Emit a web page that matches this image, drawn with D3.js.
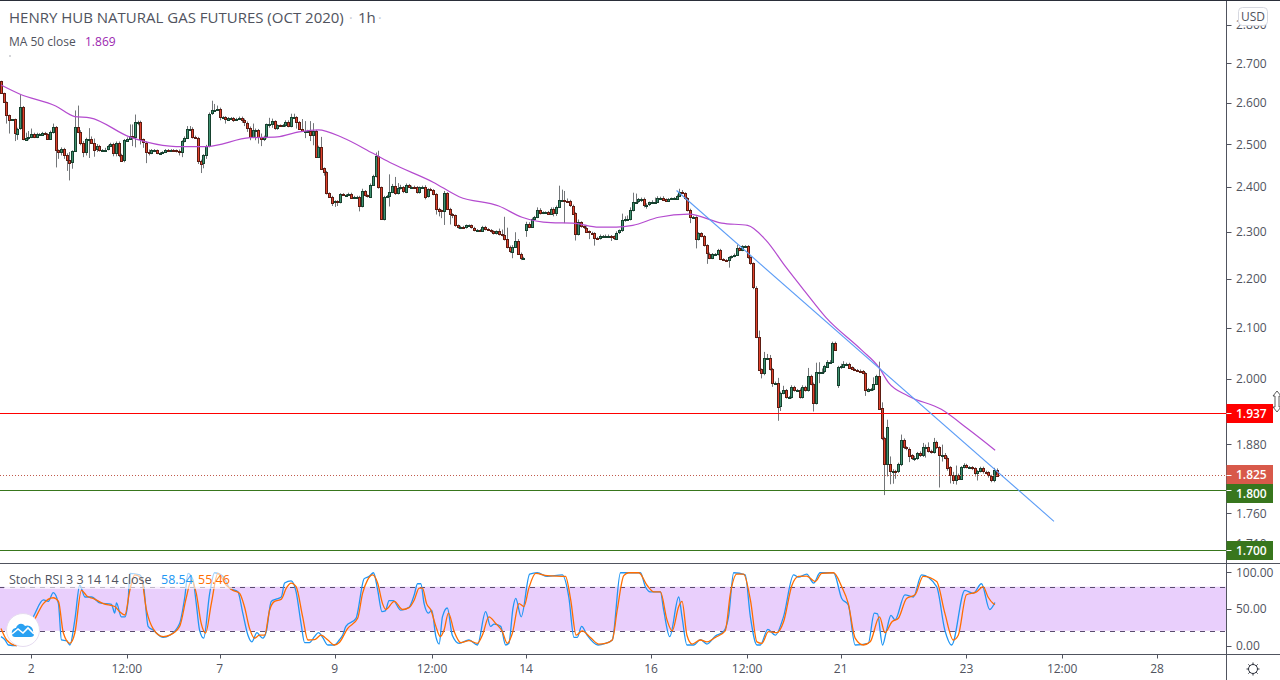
<!DOCTYPE html>
<html>
<head>
<meta charset="utf-8">
<script src="https://d3js.org/d3.v7.min.js"></script>
<style>
html,body{margin:0;padding:0;background:#fff;overflow:hidden}
svg{display:block}
text{font-family:"Open Sans","Noto Sans",sans-serif}
</style>
</head>
<body>
<svg id="c" width="1280" height="680"></svg>
<script>
const closes=[
2.625,2.603,2.571,2.559,2.559,2.526,2.537,2.589,2.511,2.515,
2.517,2.525,2.517,2.523,2.523,2.527,2.524,2.513,2.529,2.541,
2.485,2.481,2.489,2.475,2.463,2.457,2.483,2.541,2.529,2.503,
2.481,2.511,2.513,2.503,2.487,2.495,2.485,2.485,2.487,2.495,
2.5,2.479,2.503,2.475,2.461,2.509,2.513,2.519,2.517,2.553,
2.553,2.511,2.503,2.481,2.479,2.485,2.485,2.479,2.479,2.481,
2.486,2.485,2.486,2.485,2.483,2.481,2.507,2.515,2.537,2.537,
2.517,2.515,2.461,2.455,2.473,2.495,2.573,2.581,2.583,2.585,
2.565,2.565,2.559,2.563,2.563,2.559,2.561,2.563,2.557,2.551,
2.539,2.517,2.533,2.533,2.517,2.513,2.517,2.547,2.547,2.555,
2.537,2.545,2.543,2.545,2.553,2.543,2.565,2.565,2.553,2.537,
2.532,2.532,2.532,2.522,2.532,2.471,2.494,2.443,2.434,2.386,
2.378,2.365,2.368,2.365,2.384,2.382,2.382,2.384,2.376,2.378,
2.378,2.357,2.391,2.381,2.378,2.405,2.425,2.471,2.399,2.328,
2.378,2.38,2.389,2.403,2.386,2.397,2.399,2.389,2.405,2.401,
2.401,2.399,2.388,2.399,2.401,2.378,2.395,2.393,2.384,2.351,
2.347,2.345,2.386,2.351,2.339,2.336,2.314,2.309,2.311,2.309,
2.314,2.314,2.309,2.304,2.304,2.303,2.311,2.306,2.304,2.301,
2.297,2.301,2.295,2.293,2.284,2.267,2.258,2.268,2.281,2.253,
2.244,2.244,2.317,2.311,2.328,2.332,2.348,2.341,2.343,2.343,
2.339,2.351,2.341,2.355,2.371,2.371,2.369,2.368,2.358,2.341,
2.295,2.321,2.312,2.309,2.301,2.298,2.297,2.287,2.286,2.291,
2.291,2.291,2.291,2.29,2.285,2.298,2.303,2.325,2.328,2.328,
2.348,2.367,2.367,2.372,2.373,2.36,2.36,2.365,2.367,2.367,
2.376,2.376,2.372,2.368,2.373,2.374,2.374,2.38,2.388,2.386,
2.374,2.348,2.332,2.332,2.284,2.297,2.291,2.271,2.253,2.244,
2.252,2.252,2.261,2.241,2.239,2.238,2.245,2.247,2.25,2.264,
2.26,2.269,2.269,2.245,2.232,2.181,2.082,2.018,2.011,2.04,
2.04,2.019,1.993,1.993,1.949,1.974,1.979,1.966,1.966,1.985,
1.979,1.979,1.966,1.985,1.979,2.006,1.991,1.955,2.014,2.014,
2.014,2.024,2.033,2.033,2.07,2.057,2.022,2.024,2.029,2.029,
2.022,2.019,2.017,2.016,2.015,2.011,1.978,1.981,1.981,1.991,
2.006,1.945,1.891,1.845,1.911,1.8325,1.8325,1.832,1.844,1.887,
1.874,1.872,1.86,1.855,1.855,1.864,1.86,1.874,1.875,1.868,
1.866,1.883,1.874,1.859,1.861,1.856,1.839,1.825,1.817,1.826,
1.819,1.839,1.843,1.839,1.839,1.837,1.829,1.832,1.837,1.831,
1.83,1.824,1.817,1.835,1.825];
const gapBars=[0,192,306,325];
const gapOpens=[2.655,2.304,1.988,1.845];
// upper / lower shadow lengths, in thousandths of a dollar
const upperWicks=[
0,0,0,0,0,2,2,30,3,12,14,12,2,4,3,2,2,2,3,8,
2,2,3,2,3,18,2,40,52,4,4,4,25,5,10,5,3,3,4,3,
3,3,3,3,2,3,3,28,28,18,3,3,2,3,6,3,3,2,2,2,
2,2,2,2,2,4,2,3,6,6,3,3,2,2,3,3,3,24,14,8,
3,2,2,2,2,2,2,3,3,4,3,3,16,4,3,8,3,2,16,6,
2,2,2,3,4,4,8,8,2,2,
23,23,2,23,18,2,2,23,2,3,
2,2,2,2,2,2,2,3,3,2,
2,2,5,2,2,3,3,9,13,2,
2,2,40,4,20,12,6,3,3,2,
2,2,3,2,2,3,2,3,2,2,
2,2,5,2,2,2,2,2,2,2,
2,2,2,2,2,2,2,2,2,2,
2,2,6,10,40,25,3,3,18,3,
2,2,5,4,3,3,6,4,2,2,
3,3,3,3,32,23,20,5,3,2,
2,6,2,2,3,2,2,2,2,3,
2,3,3,2,2,3,2,15,6,8,
6,20,18,3,3,3,3,2,3,9,
3,2,3,2,2,2,3,3,8,5,
2,3,3,3,2,2,2,2,2,2,
2,2,2,2,2,2,2,2,3,8,
3,2,2,2,2,2,3,12,2,12,
8,6,2,2,9,2,8,2,2,3,
2,2,3,3,2,15,2,2,17,18,
6,3,3,3,2,2,3,5,5,2,
2,2,2,2,2,2,2,2,2,12,
2,27,11,2,13,13,3,2,3,10,
3,2,2,2,4,2,3,8,4,8,
2,8,3,2,18,3,2,2,6,16,
2,2,3,2,2,2,2,2,3,3,
2,2,2,3,2];
const lowerWicks=[
0,3,22,34,2,19,16,3,2,3,6,3,3,3,2,2,2,2,2,4,
40,16,8,10,26,42,15,0,3,6,12,8,44,3,17,6,3,3,3,2,
2,8,8,6,2,4,3,3,22,25,8,12,12,26,6,3,4,3,3,2,
2,2,2,3,3,8,12,3,3,3,4,3,8,23,12,8,3,3,2,3,
8,3,10,3,3,6,3,3,6,8,10,8,3,24,16,18,6,4,8,8,
3,3,2,2,4,3,3,2,16,2,
2,18,3,15,25,2,2,3,8,3,
3,8,10,8,2,2,2,2,2,2,
2,12,3,3,2,2,2,3,3,2,
3,3,24,3,4,3,3,3,3,2,
2,2,3,3,3,6,2,2,3,13,
13,15,30,3,23,6,3,2,3,2,
2,2,2,3,2,3,2,3,2,3,
3,3,3,3,3,3,4,15,3,3,
5,2,15,3,2,2,2,3,2,2,
2,2,7,6,2,2,50,3,3,3,
14,3,3,3,3,14,3,17,2,3,
3,2,3,10,3,3,3,3,3,3,
3,3,3,3,6,6,9,3,3,2,
2,2,2,2,2,2,2,2,2,2,
3,3,13,3,20,3,3,3,22,3,
3,3,3,2,2,3,15,3,2,2,
2,2,2,3,3,3,3,3,10,4,
3,3,8,3,27,9,3,3,3,3,
3,3,3,3,3,3,3,16,3,22,
3,3,3,2,2,2,5,3,2,2,
2,2,2,2,2,2,10,3,4,3,
2,3,4,54,22,23,22,13,3,3,
3,3,12,3,5,3,3,3,18,3,
3,3,3,55,10,3,6,14,7,8,
2,2,2,2,3,3,6,13,2,3,
3,3,4,4,2];

const maBars=[0,7,20,27,32.5,47,53,64,75,91,101,109,116,125,136,143,158,167.5,182,190.5,201,209,218.6,225,231,240.5,251.5,263.5,273,279.5,287,294,301.5,314.6,321,324.5,331.7,343.8,353.6,363.5];
const maValues=[2.644,2.621,2.592,2.566,2.563,2.517,2.505,2.494,2.494,2.515,2.517,2.529,2.534,2.515,2.478,2.454,2.411,2.378,2.357,2.332,2.320,2.319,2.31,2.31,2.314,2.332,2.339,2.319,2.314,2.283,2.224,2.173,2.121,2.056,2.022,1.993,1.968,1.943,1.907,1.869];

const kBars=[0,1.5,2.7,5.7,7.5,11.8,15.5,17.3,19.1,21,22.1,24,25.2,27,28.8,30.7,33.1,36.1,40.4,41.6,42.2,44,45.3,46.5,47.1,50.7,52,53.8,55.6,59.3,61.7,65.3,67.2,68.4,70.2,71.4,72.6,74.1,76.3,78.1,81.2,83.6,86.6,88.4,90.3,91.7,93.6,94.5,95.7,97,98.8,100.6,102.5,103.7,106.1,107.9,109.7,111,112.8,114.6,116.1,117.6,119.5,121.9,123.7,124.9,126.1,129.8,132.8,134.6,136.2,137.7,139.3,140.5,141.9,143.4,146.2,149.2,151.1,152.3,153.5,154.7,156.3,157.5,159,160.2,161.4,163.2,165,167.5,171.1,174.2,177.2,179,180.3,182.7,184.5,185.7,187.2,188.2,190.2,193.3,196.1,199.7,205.2,207.6,209.5,210.7,212.3,214.3,218.3,221,223.5,226.5,233.8,235.6,237.4,241.1,242.3,244.5,247.8,249,250.8,253.3,255.7,258.1,261.2,264.2,266,267.9,272.1,274,276.4,277.6,280.4,283.1,286.1,289.8,291.6,294.6,297.1,299.5,304.4,307.4,309.8,312.3,317.1,319.3,320.5,322.3,323.8,325.4,326.9,330.5,333.6,336.6,342.1,345.1,347.6,352.4,355.5,358.5,361.5,363.4];
const kValues=[12,7.5,0.7,0,12,39,62,60,72,57,7.5,6.5,0.7,35,82,66,66,58,56,44,58,39,39,62,98,96,85,26,21,11,14,30,66,98,89,57,21,10,71,99,94,78,73,44,14,5,17.5,14,10,19,60,63,66,85,88,73,30,4,4,12,17.5,11,0.7,0.7,7.5,14,26,37,91,94,99,76,46,47,61,61,48,52,69,84,84,57,44,48,12,2,39,51,14,3,7.5,0.7,46,26,29,26,0.7,3,51,64,39,97,99,94,96,66,11,11,26,14,0.7,3,7.5,99,99,80,73,73,48,12,66,39,0.7,0.7,8,2,13,19,39,99,96,39,0.7,0.7,22,14,39,96,93,97,85,99,99,64,55,0.7,3,44,43,0.7,21,41,35,69,66,96,80,21,0.7,75,71,84,49,58.54];

const dBars=[0,2.1,5.7,7.5,11.8,15.5,19.1,21,22.8,25.2,27,29.4,31.5,33.7,37.4,41.6,43.4,45.3,47.1,48.9,51.3,53.2,55.6,59.3,61.7,65.3,67.8,69.6,71.4,73.2,74.8,76.9,79.3,82.4,84.8,87.2,89,90.9,92.7,94.5,96.4,98.2,100,102.5,104.3,106.1,107.9,110.3,112.2,114.6,117,119.5,121.9,123.7,126.7,130.4,132.2,134,135.9,137.7,139.5,140.7,143.8,146.8,149.2,151.1,152.9,154.1,155.6,157.2,159,160.6,162,163.6,165.7,168.1,171.1,174.2,176,178.4,180.9,183.3,185.1,187,189.4,191.2,193,195.5,199.7,206.4,208.3,210.3,212.5,215.5,218.6,221,223.5,225.3,227.7,229.5,233.2,236.2,238.7,241.1,243.5,245.4,247.8,249,250.8,252.7,255.7,258.1,261.2,264.8,266.7,269,271.5,274,276.4,278.2,280.6,283.7,286.1,289.2,291.6,294.6,297.7,300.1,304.4,307.4,309.8,312.3,315.3,317.8,321.2,323.2,325.7,328.1,331.1,334.2,337.2,342.1,345.1,348.2,350,353,356.7,359.1,360.9,362.8,363.4];
const dValues=[23,7.5,0,7.5,32,57,65,60,17,3,17,75,67,64,57,53,46,41.5,75,96,91,48,23,12,14,26,66,89,71,30,17,57,98,82,75,71,53,23,10,14,14,48,60,63,78,85,80,39,7.5,8,14,7.5,0.7,4,23,37,71,89,96,85,57,49,60,49,51.5,62,78,78,57,48,26,12,21,44,19,4,6.5,3,14,39,30,19,3,17,57,53,78,98,95,94,62,14,20,11,2,3,7.5,48,95,99,99,82,73,73,35,20,53,60,14,2,7.5,5,11,20,71,97,97,62,5,3,19,17.5,32,82,94,94.5,87,98,99,80,57,10,0.7,5,39,17.5,32,37,64,69,94,87,44,7.5,14,69,73,80,66,57,55.46];

const trendBars=[247,385];
const trendPrices=[2.392,1.747];

const priceTicks=[2.8,2.7,2.6,2.5,2.4,2.3,2.2,2.1,2.0,1.88,1.76,1.71];
const levelPrices=[1.937,1.8,1.7];
const levelColors=["#ff0000","#38761d","#38761d"];
const lastPrice=1.825;
const tagPrices=[1.937,1.825,1.8,1.7];
const tagColors=["#ff0000","#d8594a","#38761d","#38761d"];
const tagShift=[0,-1,3,0];
const stochTicks=[100,50,0];
const stochBands=[80,20];
const timeTickBars=[11,46,80,122,157.6,192,237.7,272.8,307,353,388,422.7];
const timeTickLabels=["2","12:00","7","9","12:00","14","16","12:00","21","23","12:00","28"];

const svg=d3.select("#c");
const axisX=1226.5, paneBottom=563.5, stochBottom=654.5;
const x=d3.scaleLinear().domain([0,365]).range([1,1+365*2.735]);
const y=d3.scaleLog().domain([2.7,1.7]).range([63,550]);
const ys=d3.scaleLinear().domain([0,100]).range([645.5,572]);
const AXC="#50535e";

const defs=svg.append("defs");
defs.append("clipPath").attr("id","main").append("rect").attr("x",0).attr("y",1).attr("width",axisX).attr("height",paneBottom-1);
defs.append("clipPath").attr("id","sub").append("rect").attr("x",0).attr("y",paneBottom).attr("width",axisX).attr("height",stochBottom-paneBottom);

const main=svg.append("g").attr("clip-path","url(#main)");
const sub=svg.append("g").attr("clip-path","url(#sub)");

// candles
const opens=closes.map((c,i)=>{const g=gapBars.indexOf(i);return g>=0?gapOpens[g]:closes[i-1];});
const bars=closes.map((c,i)=>({i,o:opens[i],c,h:Math.max(opens[i],c)+upperWicks[i]/1000,l:Math.min(opens[i],c)-lowerWicks[i]/1000}));
main.append("g").selectAll("line").data(bars).join("line")
 .attr("x1",d=>Math.round(x(d.i))+.5).attr("x2",d=>Math.round(x(d.i))+.5)
 .attr("y1",d=>y(d.h)).attr("y2",d=>y(d.l)).attr("stroke","#737679").attr("stroke-width",1);
main.append("g").selectAll("rect").data(bars).join("rect")
 .attr("x",d=>Math.round(x(d.i))-.5).attr("width",2)
 .attr("y",d=>Math.round(Math.min(y(d.o),y(d.c)))+.5)
 .attr("height",d=>Math.max(1,Math.round(Math.abs(y(d.o)-y(d.c)))))
 .attr("fill",d=>d.c>=d.o?"#3f9170":"#e0412c")
 .attr("stroke",d=>d.c>=d.o?"#16412e":"#5c1c12").attr("stroke-width",1);

// levels
main.selectAll("line.lv").data(levelPrices).join("line").attr("class","lv")
 .attr("x1",0).attr("x2",axisX).attr("y1",d=>Math.round(y(d))+.5).attr("y2",d=>Math.round(y(d))+.5)
 .attr("stroke",(d,i)=>levelColors[i]).attr("stroke-width",1);
main.append("line").attr("x1",0).attr("x2",axisX).attr("y1",Math.round(y(lastPrice))+.5).attr("y2",Math.round(y(lastPrice))+.5)
 .attr("stroke","#c05a4c").attr("stroke-width",1).attr("stroke-dasharray","1 2");

// MA
main.append("path").attr("fill","none").attr("stroke","#b44bcf").attr("stroke-width",1.2)
 .attr("d",d3.line().x((d,i)=>x(maBars[i])).y(d=>y(d)).curve(d3.curveMonotoneX)(maValues));
// trend
main.append("line").attr("x1",x(trendBars[0])).attr("x2",x(trendBars[1])).attr("y1",y(trendPrices[0])).attr("y2",y(trendPrices[1]))
 .attr("stroke","#5b9cf6").attr("stroke-width",1.1);

// stoch
sub.append("rect").attr("x",0).attr("width",axisX).attr("y",ys(stochBands[0])).attr("height",ys(stochBands[1])-ys(stochBands[0])).attr("fill","#e9cffc");
sub.selectAll("line.b").data(stochBands).join("line").attr("class","b")
 .attr("x1",0).attr("x2",axisX).attr("y1",d=>Math.round(ys(d))+.5).attr("y2",d=>Math.round(ys(d))+.5)
 .attr("stroke","#5a4d6e").attr("stroke-dasharray","5 5");
const sl=bs=>d3.line().x((d,i)=>x(bs[i])).y(d=>ys(d)).curve(d3.curveMonotoneX);
sub.append("path").attr("fill","none").attr("stroke","#2196f3").attr("stroke-width",1.3).attr("d",sl(kBars)(kValues));
sub.append("path").attr("fill","none").attr("stroke","#ff6d00").attr("stroke-width",1.3).attr("d",sl(dBars)(dValues));
sub.append("rect").attr("x",4).attr("y",572).attr("width",228).attr("height",17).attr("fill","#fff").attr("opacity",.6);

// frame
const fr=svg.append("g").attr("stroke",AXC).attr("stroke-width",1);
svg.append("line").attr("x1",0).attr("x2",1280).attr("y1",.5).attr("y2",.5).attr("stroke","#2a2e39");
fr.append("line").attr("x1",axisX).attr("x2",axisX).attr("y1",0).attr("y2",680);
fr.append("line").attr("x1",0).attr("x2",1280).attr("y1",paneBottom).attr("y2",paneBottom);
fr.append("line").attr("x1",0).attr("x2",1280).attr("y1",stochBottom).attr("y2",stochBottom);

// price axis
const pa=svg.append("g");
pa.selectAll("line").data(priceTicks).join("line").attr("x1",axisX).attr("x2",axisX+5)
 .attr("y1",d=>Math.round(y(d))+.5).attr("y2",d=>Math.round(y(d))+.5).attr("stroke",AXC);
pa.selectAll("text").data(priceTicks).join("text").attr("x",1236).attr("y",d=>y(d)+4.5)
 .attr("font-size",12).attr("fill",AXC).text(d=>d3.format(".3f")(d));
// stoch axis
const sa=svg.append("g");
sa.selectAll("line").data(stochTicks).join("line").attr("x1",axisX).attr("x2",axisX+5)
 .attr("y1",d=>Math.round(ys(d))+.5).attr("y2",d=>Math.round(ys(d))+.5).attr("stroke",AXC);
sa.selectAll("text").data(stochTicks).join("text").attr("x",1236).attr("y",d=>ys(d)+4.5)
 .attr("font-size",12).attr("fill",AXC).text(d=>d3.format(".2f")(d));
// time axis
const ta=svg.append("g");
ta.selectAll("line").data(timeTickBars).join("line").attr("x1",d=>Math.round(x(d))+.5).attr("x2",d=>Math.round(x(d))+.5)
 .attr("y1",stochBottom).attr("y2",stochBottom+4).attr("stroke",AXC);
ta.selectAll("text").data(timeTickBars).join("text").attr("x",d=>x(d)).attr("y",673).attr("text-anchor","middle")
 .attr("font-size",12).attr("fill",AXC).text((d,i)=>timeTickLabels[i]);

// price tags
const tg=svg.append("g").selectAll("g").data(tagPrices).join("g");
tg.append("rect").attr("x",axisX).attr("width",46.5).attr("height",19)
 .attr("y",(d,i)=>Math.round(y(d))-9+tagShift[i]).attr("fill",(d,i)=>tagColors[i]);
tg.append("line").attr("x1",axisX).attr("x2",axisX+5).attr("y1",d=>Math.round(y(d))+.5).attr("y2",d=>Math.round(y(d))+.5).attr("stroke","#fff");
tg.append("text").attr("x",1236).attr("y",(d,i)=>Math.round(y(d))+5+tagShift[i]).attr("font-size",12).attr("font-weight",600)
 .attr("fill","#fff").text(d=>d3.format(".3f")(d));

// USD box
svg.append("rect").attr("x",1238.5).attr("y",7.5).attr("width",29).attr("height",18).attr("rx",4)
 .attr("fill","#fff").attr("stroke","#d6d8e0");
svg.append("text").attr("x",1253).attr("y",21).attr("text-anchor","middle").attr("font-size",12).attr("fill",AXC).text("USD");

// legends
svg.append("text").attr("x",9).attr("y",23).attr("font-size",15).attr("fill","#50535e").text("HENRY HUB NATURAL GAS FUTURES (OCT 2020)");
svg.append("text").attr("x",349).attr("y",23).attr("font-size",14).attr("fill","#c9cbd1").text("·");
svg.append("text").attr("x",358).attr("y",23).attr("font-size",15).attr("fill","#50535e").text("1h");
svg.append("text").attr("x",378).attr("y",23).attr("font-size",14).attr("fill","#c9cbd1").text("·");
svg.append("text").attr("x",9).attr("y",46).attr("font-size",12).attr("fill","#50535e").text("MA 50 close");
svg.append("text").attr("x",85).attr("y",46).attr("font-size",12).attr("fill","#9c27b0").text("1.869");
svg.append("rect").attr("x",9).attr("y",55).attr("width",2).attr("height",2).attr("fill","#d5d6da");
svg.append("text").attr("x",9).attr("y",584).attr("font-size",12.5).attr("fill","#50535e").text("Stoch RSI 3 3 14 14 close");
svg.append("text").attr("x",161).attr("y",584).attr("font-size",12.5).attr("fill","#2196f3").text("58.54");
svg.append("text").attr("x",198).attr("y",584).attr("font-size",12.5).attr("fill","#ff6d00").text("55.46");

// logo
const logo=svg.append("g").attr("transform","translate(23,630)");
logo.append("circle").attr("r",16.5).attr("fill","#fff").attr("stroke","#e6dcf0");
logo.append("path").attr("fill","#2aa1f2").attr("d","M-11,4 C-12,0 -9,-2 -7,-2 C-6,-6 -1,-8 2,-4 C6,-6 11,-2 10,2 C12,4 11,7 8,7 L-8,7 C-10,7 -11,6 -11,4 Z");
logo.append("path").attr("fill","none").attr("stroke","#fff").attr("stroke-width",1.6).attr("d","M-11,4 L-5,-1 L0,3 L5,-2 L11,4");

// settings gear
const gear=svg.append("g").attr("transform","translate(1253,669)").attr("stroke","#2a2e39").attr("fill","none");
gear.append("circle").attr("r",4.5);
d3.range(8).forEach(k=>{const a=k*Math.PI/4;gear.append("line").attr("x1",4.5*Math.cos(a)).attr("y1",4.5*Math.sin(a)).attr("x2",6.5*Math.cos(a)).attr("y2",6.5*Math.sin(a));});

// cursor
svg.append("path").attr("fill","#fff").attr("stroke","#333").attr("stroke-width",.8)
 .attr("d","M1277,391 L1281,396 L1279,396 L1279,407 L1281,407 L1277,412 L1273,407 L1275,407 L1275,396 L1273,396 Z");
</script>
</body>
</html>
